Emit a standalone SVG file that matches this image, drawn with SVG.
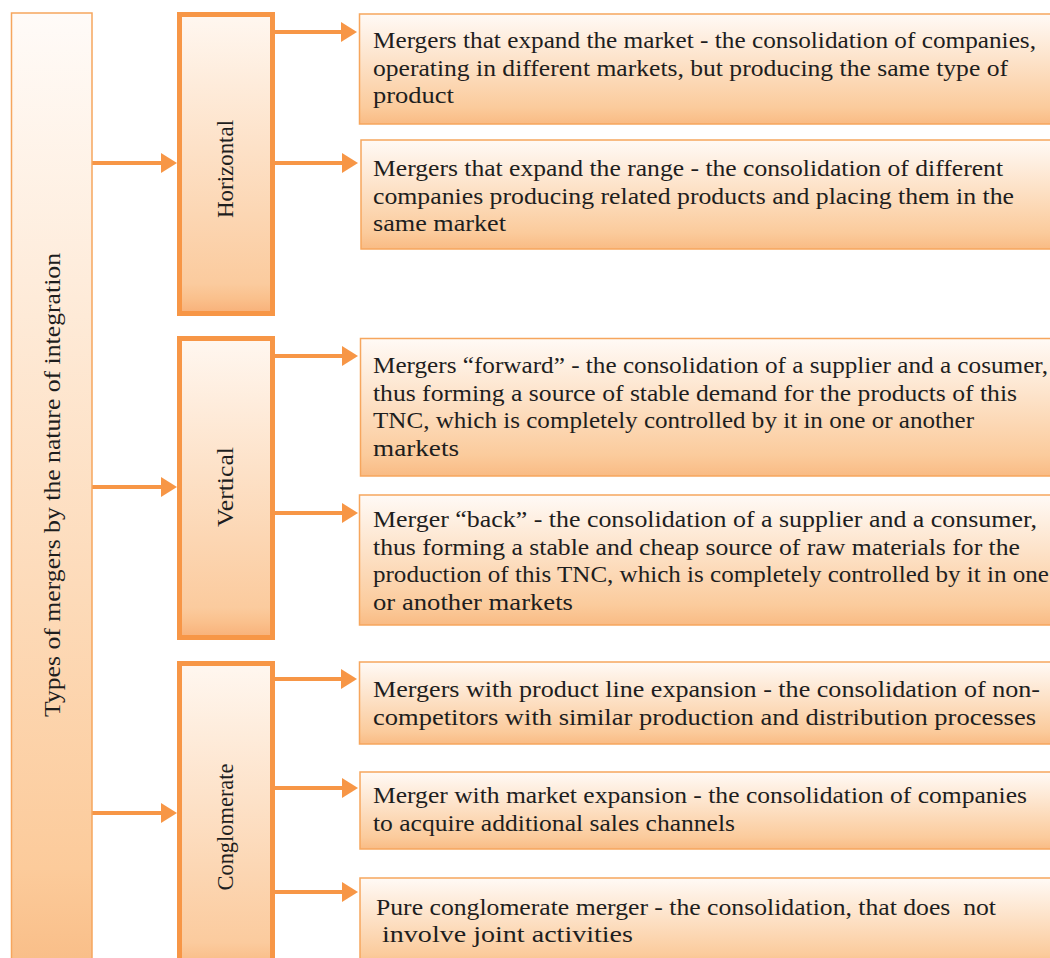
<svg xmlns="http://www.w3.org/2000/svg" width="1050" height="958" viewBox="0 0 1050 958">
<defs>
<linearGradient id="gBox" x1="0" y1="0" x2="0" y2="1">
<stop offset="0" stop-color="#FFFAF6"/>
<stop offset="0.85" stop-color="#FBCB9C"/>
<stop offset="1" stop-color="#F9BB84"/>
</linearGradient>
<linearGradient id="gMid" x1="0" y1="0" x2="0" y2="1">
<stop offset="0" stop-color="#FFF7F0"/>
<stop offset="0.9" stop-color="#FBCB9E"/>
<stop offset="0.95" stop-color="#FAC08C"/>
<stop offset="1" stop-color="#F8B078"/>
</linearGradient>
<linearGradient id="gLeft" x1="0" y1="0" x2="0" y2="1">
<stop offset="0" stop-color="#FFFBF8"/>
<stop offset="0.9" stop-color="#FCCB9B"/>
<stop offset="1" stop-color="#F9BE88"/>
</linearGradient>
<marker id="ah" markerUnits="userSpaceOnUse" markerWidth="16" markerHeight="20" refX="1" refY="10" orient="auto">
<path d="M0,0 L16,10 L0,20 z" fill="#F79646"/>
</marker>
</defs>
<style>
.t{font-family:"Liberation Serif","Times New Roman",serif;font-size:23.5px;fill:#1e1e1e}
.thin{stroke:#F6A65E;stroke-width:1.5}
.mid{stroke:#F79646;stroke-width:5}
.c{stroke:#F79646;stroke-width:4;fill:none}
</style>
<rect width="1050" height="958" fill="#ffffff"/>

<g id="connectors">
<path class="c" marker-end="url(#ah)" d="M92,163 H162"/>
<path class="c" marker-end="url(#ah)" d="M92,487 H162"/>
<path class="c" marker-end="url(#ah)" d="M92,813 H162"/>
<path class="c" marker-end="url(#ah)" d="M275,32 H342"/>
<path class="c" marker-end="url(#ah)" d="M275,163 H343"/>
<path class="c" marker-end="url(#ah)" d="M275,356 H343"/>
<path class="c" marker-end="url(#ah)" d="M275,513 H343"/>
<path class="c" marker-end="url(#ah)" d="M275,679 H342"/>
<path class="c" marker-end="url(#ah)" d="M275,788 H343"/>
<path class="c" marker-end="url(#ah)" d="M275,892 H343"/>
</g>

<g id="root">
<rect class="thin" x="11.5" y="13" width="80.5" height="950" fill="url(#gLeft)"/>
<text class="t" transform="translate(60,485) rotate(-90)" text-anchor="middle" textLength="464" lengthAdjust="spacingAndGlyphs">Types of mergers by the nature of integration</text>
</g>

<g id="horizontal">
<rect class="mid" x="179.5" y="14.5" width="93" height="299" fill="url(#gMid)"/>
<text class="t" transform="translate(233,169) rotate(-90)" text-anchor="middle" textLength="98" lengthAdjust="spacingAndGlyphs">Horizontal</text>
</g>
<g id="vertical">
<rect class="mid" x="179.5" y="338.5" width="93" height="299" fill="url(#gMid)"/>
<text class="t" transform="translate(233,487) rotate(-90)" text-anchor="middle" textLength="80" lengthAdjust="spacingAndGlyphs">Vertical</text>
</g>
<g id="conglomerate">
<rect class="mid" x="179.5" y="663.5" width="93" height="310" fill="url(#gMid)"/>
<text class="t" transform="translate(233,827) rotate(-90)" text-anchor="middle" textLength="127" lengthAdjust="spacingAndGlyphs">Conglomerate</text>
</g>

<g id="box1">
<rect class="thin" x="359.5" y="14" width="700" height="110" fill="url(#gBox)"/>
<text class="t"><tspan x="373" y="48" textLength="663" lengthAdjust="spacingAndGlyphs">Mergers that expand the market - the consolidation of companies,</tspan><tspan x="373" y="75.5" textLength="635" lengthAdjust="spacingAndGlyphs">operating in different markets, but producing the same type of</tspan><tspan x="373" y="103" textLength="81" lengthAdjust="spacingAndGlyphs">product</tspan></text>
</g>
<g id="box2">
<rect class="thin" x="361" y="140" width="700" height="109" fill="url(#gBox)"/>
<text class="t"><tspan x="373" y="176" textLength="630" lengthAdjust="spacingAndGlyphs">Mergers that expand the range - the consolidation of different</tspan><tspan x="373" y="203.5" textLength="641" lengthAdjust="spacingAndGlyphs">companies producing related products and placing them in the</tspan><tspan x="373" y="231" textLength="133" lengthAdjust="spacingAndGlyphs">same market</tspan></text>
</g>
<g id="box3">
<rect class="thin" x="360.5" y="338.5" width="700" height="137.5" fill="url(#gBox)"/>
<text class="t"><tspan x="373" y="373" textLength="675" lengthAdjust="spacingAndGlyphs">Mergers “forward” - the consolidation of a supplier and a cosumer,</tspan><tspan x="373" y="400.5" textLength="644" lengthAdjust="spacingAndGlyphs">thus forming a source of stable demand for the products of this</tspan><tspan x="373" y="428" textLength="601" lengthAdjust="spacingAndGlyphs">TNC, which is completely controlled by it in one or another</tspan><tspan x="373" y="455.5" textLength="86" lengthAdjust="spacingAndGlyphs">markets</tspan></text>
</g>
<g id="box4">
<rect class="thin" x="359.5" y="495" width="700" height="130" fill="url(#gBox)"/>
<text class="t"><tspan x="373" y="527" textLength="664" lengthAdjust="spacingAndGlyphs">Merger “back” - the consolidation of a supplier and a consumer,</tspan><tspan x="373" y="554.5" textLength="647" lengthAdjust="spacingAndGlyphs">thus forming a stable and cheap source of raw materials for the</tspan><tspan x="373" y="582" textLength="676" lengthAdjust="spacingAndGlyphs">production of this TNC, which is completely controlled by it in one</tspan><tspan x="373" y="609.5" textLength="200" lengthAdjust="spacingAndGlyphs">or another markets</tspan></text>
</g>
<g id="box5">
<rect class="thin" x="359.5" y="662" width="700" height="82" fill="url(#gBox)"/>
<text class="t"><tspan x="373" y="697" textLength="667" lengthAdjust="spacingAndGlyphs">Mergers with product line expansion - the consolidation of non-</tspan><tspan x="373" y="724.5" textLength="663" lengthAdjust="spacingAndGlyphs">competitors with similar production and distribution processes</tspan></text>
</g>
<g id="box6">
<rect class="thin" x="360" y="772" width="700" height="77" fill="url(#gBox)"/>
<text class="t"><tspan x="373" y="803" textLength="654" lengthAdjust="spacingAndGlyphs">Merger with market expansion - the consolidation of companies</tspan><tspan x="373" y="830.5" textLength="362" lengthAdjust="spacingAndGlyphs">to acquire additional sales channels</tspan></text>
</g>
<g id="box7">
<rect class="thin" x="360" y="878" width="700" height="90" fill="url(#gBox)"/>
<text class="t" xml:space="preserve"><tspan x="376" y="915" textLength="620" lengthAdjust="spacingAndGlyphs">Pure conglomerate merger - the consolidation, that does  not</tspan><tspan x="382" y="942" textLength="251" lengthAdjust="spacingAndGlyphs">involve joint activities</tspan></text>
</g>
</svg>
